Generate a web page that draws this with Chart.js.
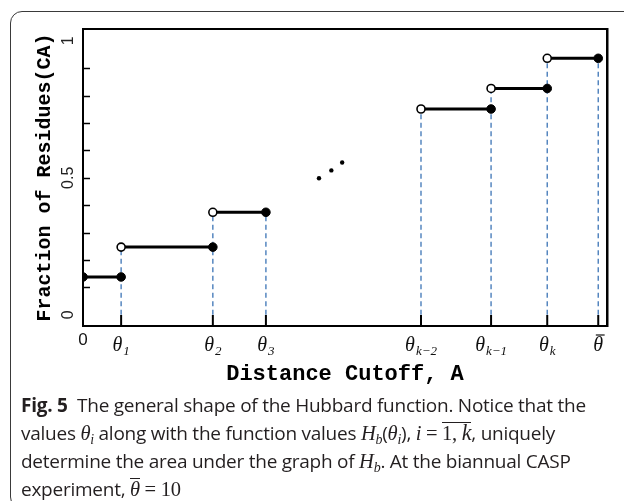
<!DOCTYPE html>
<html>
<head>
<meta charset="utf-8">
<title>Hubbard function</title>
<script src="https://cdn.jsdelivr.net/npm/chart.js@4.4.1/dist/chart.umd.min.js"></script>
<style>
  html, body { margin: 0; padding: 0; background: #fff; }
  #page { position: relative; width: 624px; height: 501px; overflow: hidden; }
  #frame { position: absolute; left: 10px; top: 11px; width: 720px; height: 496px;
           border: 1.5px solid #3a3a3a; border-radius: 12px; }
  #chart { position: absolute; left: 0; top: 0; }
  #caption { position: absolute; left: 21px; top: 391px; font-family: 'Open Sans', 'Noto Sans', sans-serif;
             font-size: 19px; line-height: 28px; color: #231f20; white-space: nowrap; letter-spacing: -0.25px; }
  #caption b { font-weight: 700; }
  #caption .mi { font-family: 'Liberation Serif', 'DejaVu Serif', serif; font-style: italic; font-size: 1.08em; }
  #caption .mr { font-family: 'Liberation Serif', 'DejaVu Serif', serif; font-size: 1.08em; }
  #caption sub { font-size: 0.68em; vertical-align: -0.28em; line-height: 0; }
  #caption .bar { display: inline-block; line-height: 0.8em; padding-top: 2px; border-top: 1.2px solid #231f20; }
</style>
</head>
<body>
<div id="page">
  <div id="frame"></div>
  <canvas id="chart" width="624" height="395"></canvas>
  <div id="caption">
    <b>Fig. 5</b>&nbsp; The general shape of the Hubbard function. Notice that the<br>
    values <span class="mi">θ<sub>i</sub></span> along with the function values <span class="mi">H<sub>b</sub></span>(<span class="mi">θ<sub>i</sub></span>), <span class="mi">i</span> <span class="mr">=</span> <span class="mr bar">1, <span class="mi">k</span></span>, uniquely<br>
    determine the area under the graph of <span class="mi">H<sub>b</sub></span>. At the biannual CASP<br>
    experiment, <span class="mi bar">θ</span> <span class="mr">= 10</span>
  </div>
</div>
<script>
// cutoff positions on the x axis (theta bar = 10)
const thetaX = [0, 0.74, 2.52, 3.55, 6.56, 7.92, 9.01, 10];
const thetaLabels = ['0', 'θ_1', 'θ_2', 'θ_3', 'θ_k−2', 'θ_k−1', 'θ_k', 'θ̄'];

// steps of H_b: from / to index into thetaX, and the level
const stepFrom = [0, 1, 2, 4, 5, 6];
const stepTo = [1, 2, 3, 5, 6, 7];
const stepValues = [0.138, 0.247, 0.374, 0.751, 0.826, 0.936];

// the three dots between theta_3 and theta_k-2
const dotsX = [4.58, 4.82, 5.03];
const dotsY = [0.498, 0.527, 0.556];

const yTickValues = [0, 0.5, 1];
const yTickLabels = ['0', '0.5', '1'];

const xMax = 10.17;
const yMin = -0.041;
const yMax = 1.043;

const monoFont = "'Courier New', 'Liberation Mono', monospace";

// build the step line, end points and dashed guides
const stepLine = [];
const filledPts = [];
const openPts = [];
stepValues.forEach((v, i) => {
  const x0 = thetaX[stepFrom[i]];
  const x1 = thetaX[stepTo[i]];
  stepLine.push({ x: x0, y: v }, { x: x1, y: v }, { x: x1, y: null });
  (i === 0 ? filledPts : openPts).push({ x: x0, y: v });
  filledPts.push({ x: x1, y: v });
});

const guideLines = [];
thetaX.forEach((x, j) => {
  if (j === 0) return;
  const top = Math.max(...stepValues.filter((v, i) => stepFrom[i] === j || stepTo[i] === j));
  guideLines.push({ x: x, y: 0 }, { x: x, y: top }, { x: x, y: null });
});

const dots = dotsX.map((x, i) => ({ x: x, y: dotsY[i] }));

function drawLine(ctx, x1, y1, x2, y2) {
  ctx.beginPath();
  ctx.moveTo(x1, y1);
  ctx.lineTo(x2, y2);
  ctx.stroke();
}

// frame, inward ticks and the tick labels
const axisDecor = {
  id: 'axisDecor',
  beforeDatasetsDraw(chart) {
    const { ctx, chartArea: a, scales: { x, y } } = chart;
    ctx.save();
    ctx.strokeStyle = '#000';
    ctx.lineWidth = 2;
    ctx.strokeRect(a.left, a.top, a.right - a.left, a.bottom - a.top);
    drawLine(ctx, a.right + 0.5, a.top - 1, a.right + 0.5, a.bottom + 1);

    thetaX.forEach((v, i) => {
      if (i === 0) return;
      const px = x.getPixelForValue(v);
      drawLine(ctx, px, a.bottom, px, a.bottom - 11);
    });

    ctx.lineWidth = 1.5;
    y.ticks.forEach(t => {
      if (t.value < 0.05 || t.value > 1.0001) return;
      const py = Math.round(y.getPixelForValue(t.value)) + 0.5;
      drawLine(ctx, a.left, py, a.left + 7, py);
    });
    ctx.restore();
  },
  afterDraw(chart) {
    const { ctx, chartArea: a, scales: { x, y } } = chart;
    ctx.save();
    ctx.fillStyle = '#222';

    // y tick labels, rotated
    ctx.font = "16px 'Liberation Sans', Arial, sans-serif";
    ctx.textAlign = 'center';
    ctx.textBaseline = 'middle';
    yTickValues.forEach((v, i) => {
      const py = y.getPixelForValue(v);
      ctx.save();
      ctx.translate(a.left - 14, py);
      ctx.rotate(-Math.PI / 2);
      ctx.fillText(yTickLabels[i], 0, 0);
      ctx.restore();
    });

    // x tick labels
    ctx.fillStyle = '#111';
    ctx.textBaseline = 'alphabetic';
    ctx.textAlign = 'left';
    const base = a.bottom + 25;
    thetaLabels.forEach((lab, i) => {
      const px = x.getPixelForValue(thetaX[i]);
      if (lab === '0') {
        ctx.font = "17px 'Liberation Sans', Arial, sans-serif";
        ctx.textAlign = 'center';
        ctx.fillText(lab, px, a.bottom + 19);
        ctx.textAlign = 'left';
        return;
      }
      const parts = lab.split('_');
      const main = parts[0].charAt(0);
      const sub = parts[1] || '';
      const bar = parts[0].length > 1;
      ctx.font = "italic 20px 'Liberation Serif', 'DejaVu Serif', serif";
      const wm = ctx.measureText(main).width;
      ctx.font = "italic 13px 'Liberation Serif', 'DejaVu Serif', serif";
      const ws = sub ? ctx.measureText(sub).width + 1 : 0;
      const x0 = px - (wm + ws) / 2;
      ctx.font = "italic 20px 'Liberation Serif', 'DejaVu Serif', serif";
      ctx.fillText(main, x0, base);
      if (bar) {
        ctx.strokeStyle = '#111';
        ctx.lineWidth = 1.2;
        drawLine(ctx, x0 + 2.5, base - 16, x0 + wm + 1.5, base - 16);
      }
      if (sub) {
        ctx.font = "italic 13px 'Liberation Serif', 'DejaVu Serif', serif";
        ctx.fillText(sub, x0 + wm + 1, base + 4);
      }
    });
    ctx.restore();
  }
};

new Chart(document.getElementById('chart'), {
  type: 'scatter',
  data: {
    datasets: [
      {
        data: openPts,
        pointRadius: 4,
        pointBackgroundColor: '#fff',
        pointBorderColor: '#000',
        pointBorderWidth: 1.6
      },
      {
        data: filledPts,
        pointRadius: 4.3,
        pointBackgroundColor: '#000',
        pointBorderColor: '#000',
        pointBorderWidth: 1
      },
      {
        data: dots,
        pointRadius: 2.2,
        pointBackgroundColor: '#000',
        pointBorderColor: '#000',
        pointBorderWidth: 0
      },
      {
        data: stepLine,
        showLine: true,
        borderColor: '#000',
        borderWidth: 3,
        pointRadius: 0
      },
      {
        data: guideLines,
        showLine: true,
        borderColor: '#4a7ebb',
        borderWidth: 1.4,
        borderDash: [5, 3.5],
        pointRadius: 0
      }
    ]
  },
  options: {
    responsive: false,
    animation: false,
    events: [],
    layout: { padding: { left: 0, right: 17, top: 29, bottom: 0 } },
    plugins: {
      legend: { display: false },
      tooltip: { enabled: false }
    },
    scales: {
      x: {
        type: 'linear',
        min: 0,
        max: xMax,
        ticks: { display: false },
        grid: { display: false },
        border: { display: false },
        title: {
          display: true,
          text: 'Distance Cutoff, A',
          color: '#000',
          font: { family: monoFont, size: 22, weight: 'bold' },
          padding: { top: 0, bottom: 7 }
        },
        afterFit(scale) { scale.height = 69; }
      },
      y: {
        type: 'linear',
        min: yMin,
        max: yMax,
        ticks: { display: false, stepSize: 0.1 },
        grid: { display: false },
        border: { display: false },
        title: {
          display: true,
          text: 'Fraction of Residues(CA)',
          color: '#000',
          font: { family: monoFont, size: 20, weight: 'bold' },
          padding: { top: 33, bottom: 0 }
        },
        afterFit(scale) { scale.width = 83; }
      }
    }
  },
  plugins: [axisDecor]
});
</script>
</body>
</html>
